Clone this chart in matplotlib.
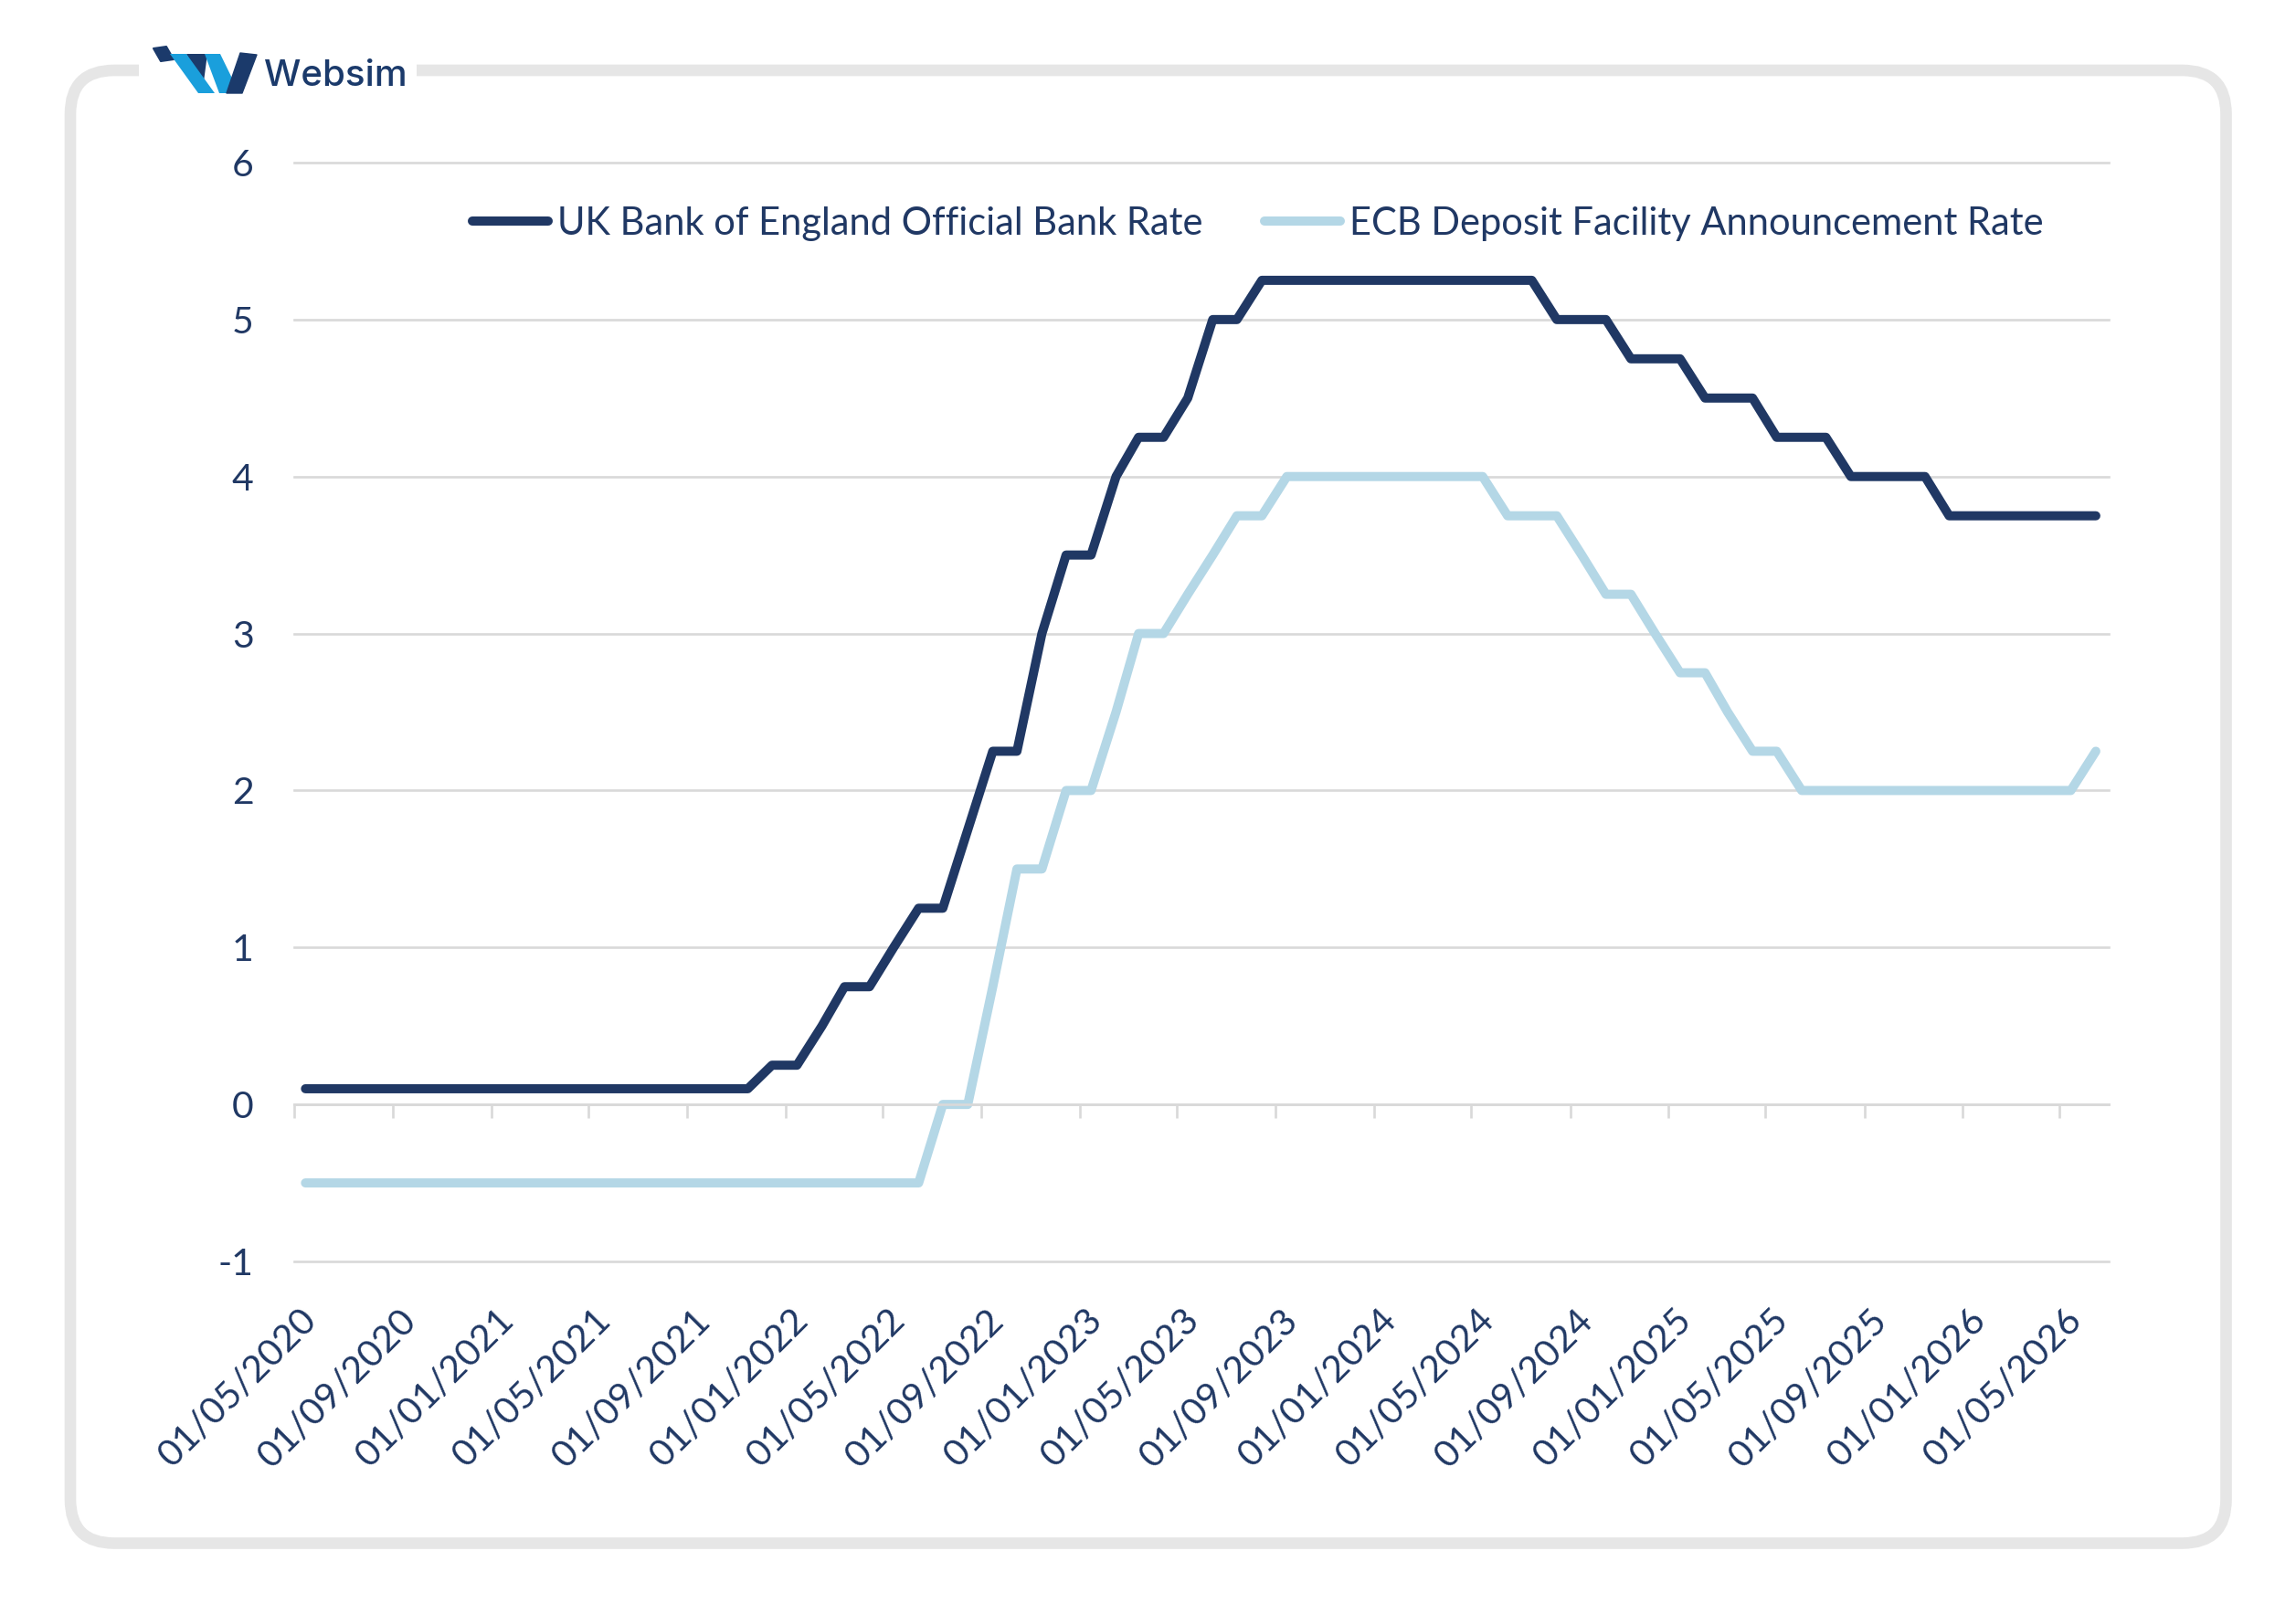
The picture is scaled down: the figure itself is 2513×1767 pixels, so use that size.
import matplotlib
matplotlib.use("Agg")
import matplotlib.pyplot as plt
from matplotlib.patches import FancyBboxPatch, Polygon, Rectangle
from matplotlib.transforms import ScaledTranslation
import pandas as pd

plt.rcParams["font.family"] = ["Lato", "DejaVu Sans"]
plt.rcParams["axes.unicode_minus"] = False

W, H = 2513, 1767
NAVY = "#203864"
LIGHT = "#B4D7E6"
GRID = "#D9D9D9"

# monthly values, May 2020 .. Jun 2026
months = pd.date_range("2020-05-01", periods=74, freq="MS") + pd.Timedelta(days=14)

boe = [0.1, 0.1, 0.1, 0.1, 0.1, 0.1, 0.1, 0.1, 0.1, 0.1,
       0.1, 0.1, 0.1, 0.1, 0.1, 0.1, 0.1, 0.1, 0.1, 0.25,
       0.25, 0.5, 0.75, 0.75, 1.0, 1.25, 1.25, 1.75, 2.25, 2.25,
       3.0, 3.5, 3.5, 4.0, 4.25, 4.25, 4.5, 5.0, 5.0, 5.25,
       5.25, 5.25, 5.25, 5.25, 5.25, 5.25, 5.25, 5.25, 5.25, 5.25,
       5.25, 5.0, 5.0, 5.0, 4.75, 4.75, 4.75, 4.5, 4.5, 4.5,
       4.25, 4.25, 4.25, 4.0, 4.0, 4.0, 4.0, 3.75, 3.75, 3.75,
       3.75, 3.75, 3.75, 3.75]

ecb = [-0.5, -0.5, -0.5, -0.5, -0.5, -0.5, -0.5, -0.5, -0.5, -0.5,
       -0.5, -0.5, -0.5, -0.5, -0.5, -0.5, -0.5, -0.5, -0.5, -0.5,
       -0.5, -0.5, -0.5, -0.5, -0.5, -0.5, 0.0, 0.0, 0.75, 1.5,
       1.5, 2.0, 2.0, 2.5, 3.0, 3.0, 3.25, 3.5, 3.75, 3.75,
       4.0, 4.0, 4.0, 4.0, 4.0, 4.0, 4.0, 4.0, 4.0, 3.75,
       3.75, 3.75, 3.5, 3.25, 3.25, 3.0, 2.75, 2.75, 2.5, 2.25,
       2.25, 2.0, 2.0, 2.0, 2.0, 2.0, 2.0, 2.0, 2.0, 2.0,
       2.0, 2.0, 2.0, 2.25]

tick_dates = pd.date_range("2020-05-01", "2026-05-01", freq="4MS")
tick_labels = ["01/05/2020", "01/09/2020", "01/01/2021", "01/05/2021", "01/09/2021",
               "01/01/2022", "01/05/2022", "01/09/2022", "01/01/2023", "01/05/2023",
               "01/09/2023", "01/01/2024", "01/05/2024", "01/09/2024", "01/01/2025",
               "01/05/2025", "01/09/2025", "01/01/2026", "01/05/2026"]
y_ticks = [-1, 0, 1, 2, 3, 4, 5, 6]

fig = plt.figure(figsize=(W / 100, H / 100), dpi=100)

# frame + logo layer
ov = fig.add_axes([0, 0, 1, 1], zorder=0)
ov.set_xlim(0, W)
ov.set_ylim(H, 0)
ov.axis("off")
ov.add_patch(FancyBboxPatch((77, 77), 2359.5, 1612.5,
                            boxstyle="round,pad=0,rounding_size=48",
                            fill=False, ec="#E6E6E6", lw=9.1))
ov.add_patch(Rectangle((152, 58), 304, 40, fc="white", ec="none", zorder=3))
logo_dark = "#1B3A6B"
logo_blue = "#1A9FDC"
ov.add_patch(Polygon([(168, 53), (182, 51), (190, 65), (176, 67)], closed=True,
                     fc=logo_dark, ec=logo_dark, lw=1.5, joinstyle="round", zorder=4))
ov.add_patch(Polygon([(204, 59), (227, 59), (222, 97)], closed=True,
                     fc=logo_dark, ec="none", zorder=4))
ov.add_patch(Polygon([(186, 59), (204, 59), (235, 102), (217, 102)], closed=True,
                     fc=logo_blue, ec="none", zorder=5))
ov.add_patch(Polygon([(224, 59), (241, 59), (262, 102), (240, 102)], closed=True,
                     fc=logo_blue, ec="none", zorder=5))
ov.add_patch(Polygon([(248, 102), (265, 102), (281, 60), (263, 58)], closed=True,
                     fc=logo_dark, ec=logo_dark, lw=1, joinstyle="round", zorder=6))
ov.text(289, 94, "Websim", fontsize=29, color=logo_dark, family=["Inter", "DejaVu Sans"],
        weight="medium", ha="left", va="baseline", zorder=4)

# chart
ax = fig.add_axes([322 / W, 1 - 1381 / H, (2308 - 322) / W, (1381 - 178) / H], zorder=1)
ax.set_facecolor("none")

ax.plot(months, boe, color=NAVY, lw=7.2, solid_capstyle="round", solid_joinstyle="round",
        label="UK Bank of England Official Bank Rate", zorder=3)
ax.plot(months, ecb, color=LIGHT, lw=7.2, solid_capstyle="round", solid_joinstyle="round",
        label="ECB Deposit Facility Announcement Rate", zorder=2)

ax.set_xlim(pd.Timestamp("2020-05-01"), pd.Timestamp("2026-07-01"))
ax.set_ylim(-1, 6)
ax.set_yticks(y_ticks)
ax.yaxis.grid(True, color=GRID, lw=1.9)
for gl in ax.get_ygridlines():
    gl.set_clip_on(False)
ax.set_axisbelow(True)

for s in ["left", "right", "top"]:
    ax.spines[s].set_visible(False)
ax.spines["bottom"].set_position(("data", 0))
ax.spines["bottom"].set_color(GRID)
ax.spines["bottom"].set_linewidth(1.9)

ax.tick_params(axis="y", length=0, pad=32, labelsize=29.5, labelcolor=NAVY)
ax.tick_params(axis="x", direction="out", length=10.8, width=1.9, color=GRID,
               pad=155, labelsize=29.5, labelcolor=NAVY)
ax.set_xticks(tick_dates, tick_labels, rotation=45, ha="right", va="center",
              rotation_mode="anchor")
shift = ScaledTranslation(19 / 100, 0, fig.dpi_scale_trans)
for lab in ax.get_xticklabels():
    lab.set_transform(lab.get_transform() + shift)

leg = ax.legend(loc="center left", bbox_to_anchor=(516.6 / W, 1 - 245 / H),
                bbox_transform=fig.transFigure, ncol=2, frameon=False, fontsize=30,
                handlelength=2.0, handletextpad=0.25, columnspacing=1.6,
                borderpad=0, borderaxespad=0)
for t in leg.get_texts():
    t.set_color(NAVY)

fig.savefig("out.png", dpi=100, facecolor="white")
